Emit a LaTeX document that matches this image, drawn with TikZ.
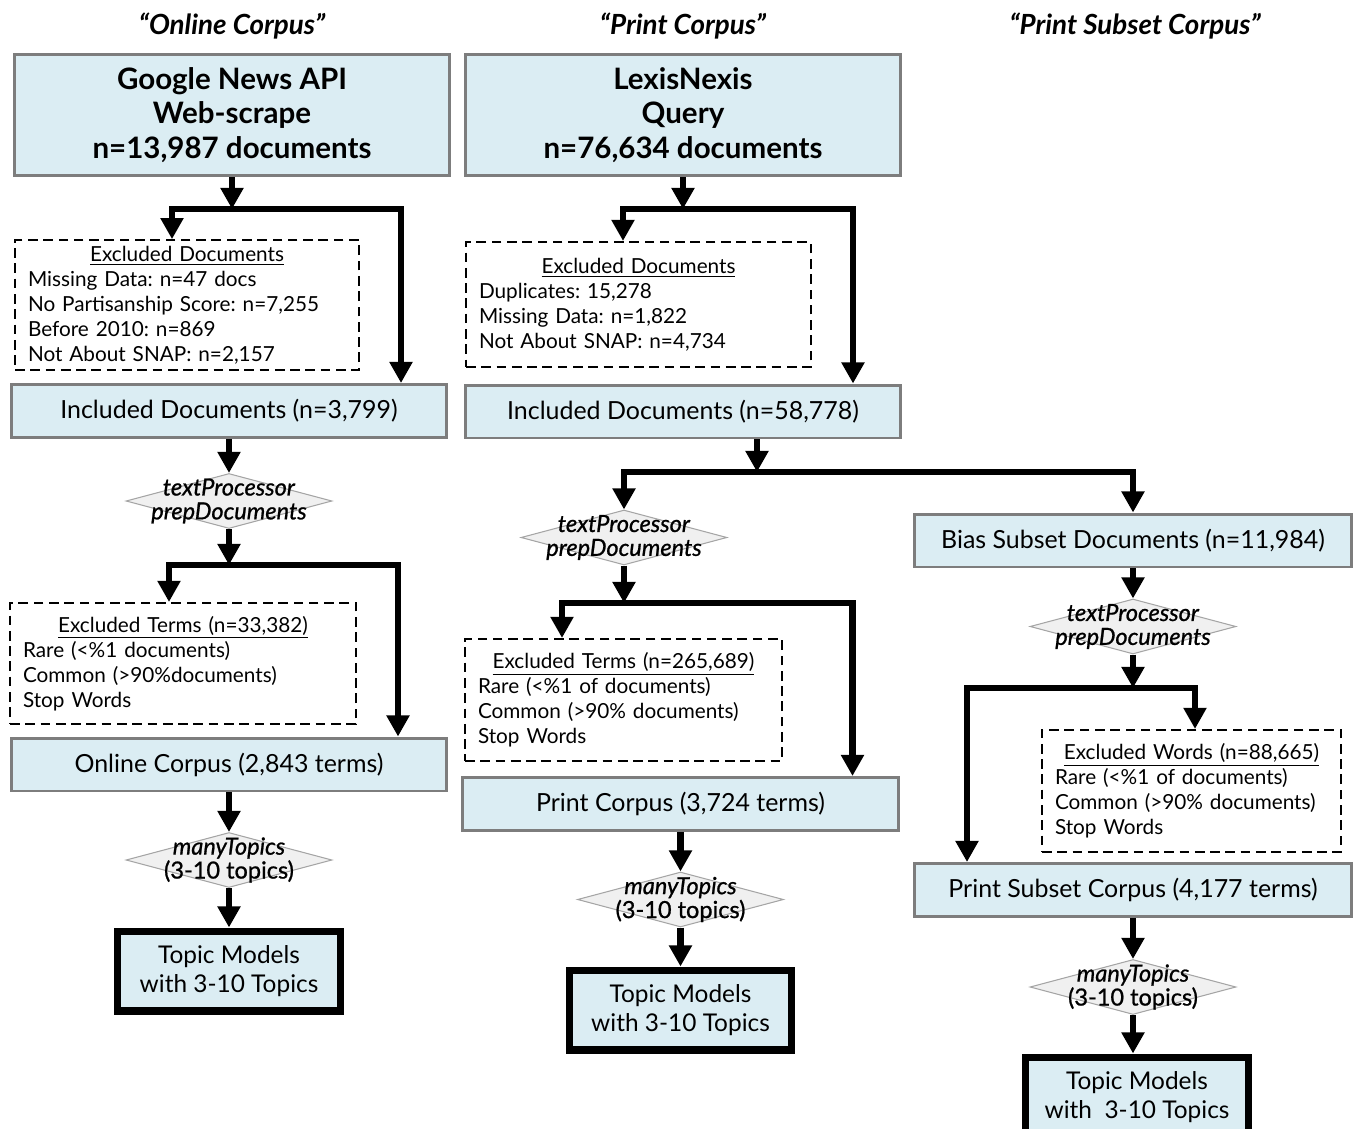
\documentclass[tikz,border=0pt]{standalone}
\usepackage{fontspec}
\setmainfont{Lato}
\newfontfamily\medfont{Lato}[FakeBold=0.9]
\usetikzlibrary{calc, arrows.meta, positioning, shapes.geometric}
\definecolor{boxblue}{RGB}{219,237,243}
\definecolor{boxgray}{RGB}{125,125,125}
\definecolor{stepfill}{RGB}{240,240,240}
\definecolor{stepline}{RGB}{165,165,165}
\frenchspacing

\begin{document}
\begin{tikzpicture}[x=0.02cm, y=-0.02cm,
    flow/.style={line width=3.6pt, -{Triangle[width=12.5pt, length=12pt]}},
    corpus/.style={font=\bfseries\itshape\fontsize{15.8}{18}\selectfont},
    source/.style={draw=boxgray, line width=1.7pt, fill=boxblue,
                   minimum width=8.72cm, minimum height=2.44cm,
                   align=center, font=\bfseries\fontsize{16.8}{19.6}\selectfont},
    block/.style={draw=boxgray, line width=1.7pt, fill=boxblue,
                  minimum width=8.72cm, minimum height=1.06cm,
                  align=center, font=\fontsize{14.2}{16}\selectfont},
    excl/.style={draw, dash pattern=on 5.5pt off 3.2pt, line width=1.2pt,
                 inner xsep=0.26cm, align=left,
                 font=\fontsize{11.8}{14.2}\selectfont},
    proc/.style={diamond, draw=stepline, line width=0.6pt, fill=stepfill,
                 minimum width=4.12cm, minimum height=1.1cm, inner sep=0pt},
    proctext/.style={align=center, font=\medfont\fontsize{13.4}{13.6}\selectfont},
    result/.style={draw, line width=4pt, fill=boxblue,
                   minimum width=4.46cm, minimum height=1.6cm,
                   align=center, font=\fontsize{13.9}{16.4}\selectfont}
  ]
  \useasboundingbox (0,0) rectangle (1357,1129);

  % column titles
  \node[corpus] (t1) at (232,26)  {“Online Corpus”};
  \node[corpus] (t2) at (683,26)  {“Print Corpus”};
  \node[corpus] (t3) at (1135,26) {“Print Subset Corpus”};

  % online corpus
  \node[source] (gnews) at (232,115) {Google News API\\Web-scrape\\n=13,987 documents};
  \node[excl, text width=6.36cm, minimum height=2.52cm] (exd1) at (187,305)
    {\makebox[\linewidth]{\underline{Excluded Documents}}\\Missing Data: n=47 docs\\No Partisanship Score: n=7,255\\Before 2010: n=869\\Not About SNAP: n=2,157};
  \node[block] (inc1) at (229,411) {Included Documents (n=3,799)};
  \node[proc, label={[proctext]center:{\textit{textProcessor}\\\textit{prepDocuments}}}] (prep1) at (229,501) {};
  \node[excl, text width=6.4cm, minimum height=2.42cm] (ext1) at (183,663.5)
    {\makebox[\linewidth]{\underline{Excluded Terms (n=33,382)}}\\Rare (<\%1 documents)\\Common (>90\%documents)\\Stop Words};
  \node[block] (onl) at (229,764.5) {Online Corpus (2,843 terms)};
  \node[proc, label={[proctext]center:{\textit{manyTopics}\\(3-10 topics)}}] (many1) at (229,860) {};
  \node[result] (top1) at (229,971) {Topic Models\\with 3-10 Topics};

  \coordinate (split1) at (232,209);
  \draw[flow] (gnews) -- (split1);
  \draw[flow] (split1) -| ($(exd1.north)+(-15,0)$);
  \draw[flow] (split1) -| ($(inc1.north)+(172,0)$);
  \draw[flow] (inc1) -- (prep1);
  \coordinate (split2) at (229,565);
  \draw[flow] (prep1) -- (split2);
  \draw[flow] (split2) -| ($(ext1.north)+(-14,0)$);
  \draw[flow] (split2) -| ($(onl.north)+(169,0)$);
  \draw[flow] (onl) -- (many1);
  \draw[flow] (many1) -- (top1);

  % print corpus
  \node[source] (lexis) at (683,115) {LexisNexis\\Query\\n=76,634 documents};
  \node[excl, text width=6.38cm, minimum height=2.5cm] (exd2) at (638.5,304.5)
    {\makebox[\linewidth]{\underline{Excluded Documents}}\\Duplicates: 15,278\\Missing Data: n=1,822\\Not About SNAP: n=4,734};
  \node[block] (inc2) at (683,411.5) {Included Documents (n=58,778)};
  \node[proc, label={[proctext]center:{\textit{textProcessor}\\\textit{prepDocuments}}}] (prep2) at (624,537.5) {};
  \node[excl, text width=5.82cm, minimum height=2.44cm] (ext2) at (623.5,700)
    {\makebox[\linewidth]{\underline{Excluded Terms (n=265,689)}}\\Rare (<\%1 of documents)\\Common (>90\% documents)\\Stop Words};
  \node[block] (prt) at (680.5,804) {Print Corpus (3,724 terms)};
  \node[proc, label={[proctext]center:{\textit{manyTopics}\\(3-10 topics)}}] (many2) at (680.5,899.5) {};
  \node[result] (top2) at (680.5,1010) {Topic Models\\with 3-10 Topics};

  \coordinate (split3) at (683,209);
  \draw[flow] (lexis) -- (split3);
  \draw[flow] (split3) -| ($(exd2.north)+(-15.5,0)$);
  \draw[flow] (split3) -| ($(inc2.north)+(170,0)$);
  \coordinate (split4) at (757,472);
  \draw[flow] ($(inc2.south)+(74,0)$) -- (split4);
  \draw[flow] (split4) -| (prep2.north);
  \coordinate (split5) at (624,603);
  \draw[flow] (prep2) -- (split5);
  \draw[flow] (split5) -| ($(ext2.north)+(-61.5,0)$);
  \draw[flow] (split5) -| ($(prt.north)+(172,0)$);
  \draw[flow] (prt) -- (many2);
  \draw[flow] (many2) -- (top2);

  % print subset corpus
  \node[block, minimum width=8.76cm] (bias) at (1133,540.5) {Bias Subset Documents (n=11,984)};
  \node[proc, label={[proctext]center:{\textit{textProcessor}\\\textit{prepDocuments}}}] (prep3) at (1133,626.5) {};
  \node[excl, text width=5.46cm, minimum height=2.44cm] (exw) at (1191.5,791)
    {\makebox[\linewidth]{\underline{Excluded Words (n=88,665)}}\\Rare (<\%1 of documents)\\Common (>90\% documents)\\Stop Words};
  \node[block, minimum width=8.76cm] (psc) at (1133,890) {Print Subset Corpus (4,177 terms)};
  \node[proc, label={[proctext]center:{\textit{manyTopics}\\(3-10 topics)}}] (many3) at (1133,987) {};
  \node[result] (top3) at (1137,1097) {Topic Models\\with~~3-10 Topics};

  \draw[flow] (split4) -| (bias.north);
  \draw[flow] (bias) -- (prep3);
  \coordinate (split6) at (1133,688);
  \draw[flow] (prep3) -- (split6);
  \draw[flow] (split6) -| ($(psc.north)+(-166,0)$);
  \draw[flow] (split6) -| ($(exw.north)+(3.5,0)$);
  \draw[flow] (psc) -- (many3);
  \draw[flow] (many3) -- (many3 |- top3.north);
\end{tikzpicture}
\end{document}
